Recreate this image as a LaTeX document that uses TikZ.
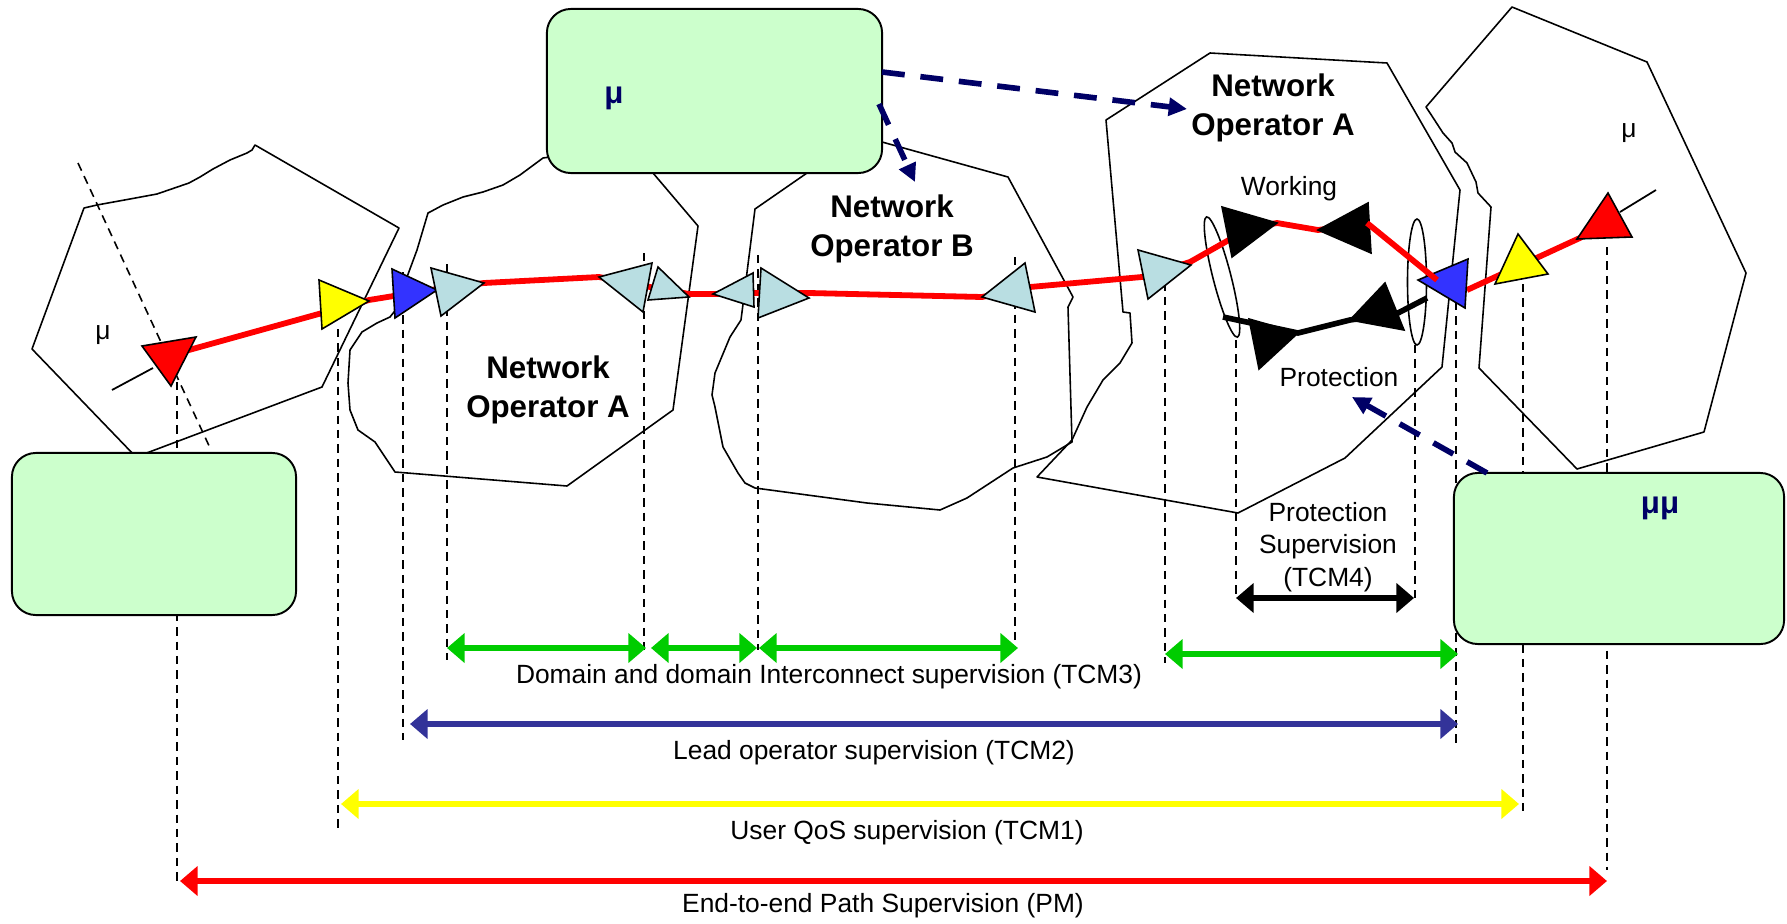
\documentclass[tikz,border=0pt]{standalone}
\usepackage{fontspec}
\setmainfont{Liberation Sans}
\usetikzlibrary{arrows.meta}

\definecolor{boxgreen}{RGB}{204,255,204}
\definecolor{tealfill}{RGB}{185,222,226}
\definecolor{navy}{RGB}{0,0,102}
\definecolor{leadblue}{RGB}{51,51,153}
\definecolor{supgreen}{RGB}{0,204,0}
\definecolor{pathred}{RGB}{255,0,0}
\definecolor{qosyellow}{RGB}{255,255,0}
\definecolor{termblue}{RGB}{51,51,255}

\begin{document}
\begin{tikzpicture}[x=0.01cm,y=-0.01cm,
  zone/.style={draw=black,line width=0.45pt,line join=round},
  guide/.style={draw=black,line width=0.45pt,dash pattern=on 2.4pt off 1.7pt},
  mgmtbox/.style={draw=black,line width=0.55pt,fill=boxgreen,rounded corners=6.8pt,inner sep=0pt},
  tp/.style={draw=black,line width=0.45pt,line join=miter},
  pathline/.style={draw=pathred,line width=1.65pt},
  protline/.style={draw=black,line width=1.6pt},
  ring/.style={draw=black,line width=0.45pt},
  spanarrow/.style={line width=1.5pt,{Triangle[length=5pt,width=8.2pt]}-{Triangle[length=5pt,width=8.2pt]}},
  mgmtlink/.style={draw=navy,line width=1.6pt,dash pattern=on 6.5pt off 4.5pt,-{Triangle[length=5.2pt,width=5pt]}},
  opname/.style={font=\fontsize{8.9pt}{10.9pt}\selectfont\bfseries,align=center,inner sep=0pt},
  lbl/.style={font=\fontsize{7.5pt}{9.2pt}\selectfont,align=center,inner sep=0pt},
  boxmu/.style={font=\fontsize{8.9pt}{10.9pt}\selectfont\bfseries,text=navy,inner sep=0pt},
]
\useasboundingbox (0,0) rectangle (1787,924);

% ---------- domain outlines ----------
% customer domain, left
\draw[zone] (84,208) -- (97,205) -- (130,199) -- (157,194) -- (189,183) -- (200,177)
  -- (213,169) -- (230,160) -- (247,153) -- (252,150) -- (255,145) -- (399,228)
  -- (322,387) -- (136,457) -- (32,349) -- cycle;
% network operator A, first part
\draw[zone] (428,213) -- (430,212) -- (443,205) -- (463,197) -- (483,192) -- (503,185)
  -- (520,175) -- (543,158) -- (600,150) -- (653,173) -- (698,226) -- (673,410)
  -- (567,486) -- (395,472) -- (375,442) -- (358,430) -- (350,410) -- (348,383)
  -- (350,350) -- (362,332) -- (377,323) -- (390,317) -- (398,307) -- (407,277)
  -- (417,250) -- cycle;
% network operator B
\draw[zone] (807,173) -- (755,209) -- (741,320) -- (730,337) -- (715,373) -- (712,395)
  -- (715,407) -- (723,447) -- (738,473) -- (745,483) -- (755,488) -- (867,503)
  -- (940,510) -- (967,498) -- (1013,468) -- (1047,457) -- (1072,442) -- (1068,307)
  -- (1073,297) -- (1008,177) -- (882,142) -- (840,160) -- cycle;
% network operator A, second part
\draw[zone] (1106,120) -- (1210,53) -- (1387,63) -- (1460,190) -- (1442,367)
  -- (1345,458) -- (1238,513) -- (1037,477) -- (1072,440) -- (1087,407) -- (1103,380)
  -- (1120,363) -- (1132,343) -- (1130,313) -- (1123,312) -- cycle;
% customer domain, right
\draw[zone] (1426,107) -- (1512,7) -- (1647,62) -- (1746,273) -- (1704,432)
  -- (1577,469) -- (1479,368) -- (1491,207) -- (1478,193) -- (1476,182) -- (1467,163)
  -- (1455,152) -- (1452,143) -- (1443,133) -- (1430,113) -- cycle;

% ---------- guide lines ----------
\draw[guide] (78,163) -- (211,450);
\foreach \gx/\gt/\gb in {177/382/883, 338/329/828, 403/272/740, 447/264/660,
  644/253/650, 758/255/650, 1015/257/645, 1165/268/663, 1236/340/598,
  1415/345/598, 1456/273/743, 1523/284/811, 1607/247/870}
  \draw[guide] (\gx,\gt) -- (\gx,\gb);

% ---------- management boxes ----------
\node[mgmtbox,minimum width=3.35cm,minimum height=1.64cm] (mgmtA) at (714.5,91) {};
\node[mgmtbox,minimum width=2.84cm,minimum height=1.62cm] (mgmtL) at (154,534) {};
\node[mgmtbox,minimum width=3.30cm,minimum height=1.71cm] (mgmtR) at (1619,558.5) {};
\node[boxmu] (muA) at (614,98) {μ};
\node[boxmu] (muR) at (1660,508) {μμ};

% ---------- protection group rings ----------
\draw[ring,rotate around={14.4:(1222,277)}] (1222,277) ellipse [x radius=0.09cm, y radius=0.62cm];
\draw[ring] (1417,282) ellipse [x radius=0.095cm, y radius=0.63cm];

% ---------- trail path ----------
\coordinate (srcA) at (112,390);
\coordinate (srcB) at (153,368);
\coordinate (snkA) at (1620,212);
\coordinate (snkB) at (1656,190);
\draw[black,line width=0.5pt] (srcA) -- (srcB);
\draw[black,line width=0.5pt] (snkA) -- (snkB);

\draw[pathline] (171,355) -- (369,300) -- (437,289) -- (484,283) -- (599,277)
  -- (650,287) -- (689,294) -- (713,294) -- (758,293) -- (809,293) -- (982,297)
  -- (1030,287) -- (1142,277) -- (1190,262) -- (1250,228) -- (1277,223)
  -- (1318,230) -- (1367,223);
\draw[pathline] (1467,290) -- (1582,237);
\draw[protline] (1223,317) -- (1298,333) -- (1350,320) -- (1398,313) -- (1427,298);

% ---------- termination points ----------
\draw[tp,fill=pathred]   (142,346) -- (196,337) -- (171,386) -- cycle;
\draw[tp,fill=qosyellow] (319,280) -- (369,301) -- (322,329) -- cycle;
\draw[tp,fill=termblue]  (392,269) -- (437,290) -- (395,318) -- cycle;
\draw[tp,fill=tealfill]  (431,268) -- (484,283) -- (441,316) -- cycle;
\draw[tp,fill=tealfill]  (599,277) -- (652,263) -- (643,312) -- cycle;
\draw[tp,fill=tealfill]  (658,267) -- (689,297) -- (648,300) -- cycle;
\draw[tp,fill=tealfill]  (713,294) -- (753,273) -- (754,307) -- cycle;
\draw[tp,fill=tealfill]  (761,268) -- (809,298) -- (758,318) -- cycle;
\draw[tp,fill=tealfill]  (982,297) -- (1025,263) -- (1035,312) -- cycle;
\draw[tp,fill=tealfill]  (1138,250) -- (1191,265) -- (1148,299) -- cycle;
\draw[tp,fill=black]     (1222,207) -- (1277,223) -- (1232,257) -- cycle;
\draw[tp,fill=black]     (1318,230) -- (1368,203) -- (1371,253) -- cycle;
\draw[tp,fill=black]     (1249,319) -- (1298,333) -- (1259,369) -- cycle;
\draw[tp,fill=black]     (1350,320) -- (1385,283) -- (1404,330) -- cycle;
\draw[tp,fill=termblue]  (1418,280) -- (1468,259) -- (1465,308) -- cycle;
\draw[tp,fill=qosyellow] (1495,284) -- (1518,234) -- (1548,274) -- cycle;
\draw[tp,fill=pathred]   (1577,239) -- (1608,193) -- (1632,237) -- cycle;
\draw[pathline] (1367,223) -- (1437,280);

% ---------- labels in the domains ----------
\node[lbl] (muL) at (103,335) {μ};
\node[lbl] (muRt) at (1629,133) {μ};
\node[opname] (opA1) at (548,390) {Network\\Operator A};
\node[opname] (opB) at (892,229) {Network\\Operator B};
\node[opname] (opA2) at (1273,108) {Network\\Operator A};
\node[lbl] (work) at (1289,189) {Working};
\node[lbl] (prot) at (1339,377) {Protection};

% ---------- management links ----------
\coordinate (m1s) at (882,72);   \coordinate (m1e) at (1187,109);
\coordinate (m2s) at (879,104);  \coordinate (m2e) at (915,182);
\coordinate (m3s) at (1487,473); \coordinate (m3e) at (1352,397);
\draw[mgmtlink] (m1s) -- (m1e);
\draw[mgmtlink] (m2s) -- (m2e);
\draw[mgmtlink] (m3s) -- (m3e);

% ---------- supervision spans ----------
\coordinate (t4a) at (1236,598); \coordinate (t4b) at (1414,598);
\draw[spanarrow,black,line width=1.7pt] (t4a) -- (t4b);
\node[lbl] (t4lbl) at (1328,547) {Protection\\Supervision\\(TCM4)};

\coordinate (g1a) at (447,648);  \coordinate (g1b) at (646,648);
\coordinate (g2a) at (651,648);  \coordinate (g2b) at (757,648);
\coordinate (g3a) at (759,648);  \coordinate (g3b) at (1018,648);
\coordinate (g4a) at (1165,654); \coordinate (g4b) at (1458,654);
\draw[spanarrow,supgreen] (g1a) -- (g1b);
\draw[spanarrow,supgreen] (g2a) -- (g2b);
\draw[spanarrow,supgreen] (g3a) -- (g3b);
\draw[spanarrow,supgreen] (g4a) -- (g4b);
\node[lbl] (t3lbl) at (829,677) {Domain and domain Interconnect supervision (TCM3)};

\coordinate (b1a) at (410,724); \coordinate (b1b) at (1458,724);
\draw[spanarrow,leadblue] (b1a) -- (b1b);
\node[lbl] (t2lbl) at (874,753) {Lead operator supervision (TCM2)};

\coordinate (y1a) at (341,804); \coordinate (y1b) at (1519,804);
\draw[spanarrow,qosyellow] (y1a) -- (y1b);
\node[lbl] (t1lbl) at (907,833) {User QoS supervision (TCM1)};

\coordinate (r1a) at (180,881); \coordinate (r1b) at (1607,881);
\draw[spanarrow,pathred] (r1a) -- (r1b);
\node[lbl] (pmlbl) at (883,906) {End-to-end Path Supervision (PM)};
\end{tikzpicture}
\end{document}
